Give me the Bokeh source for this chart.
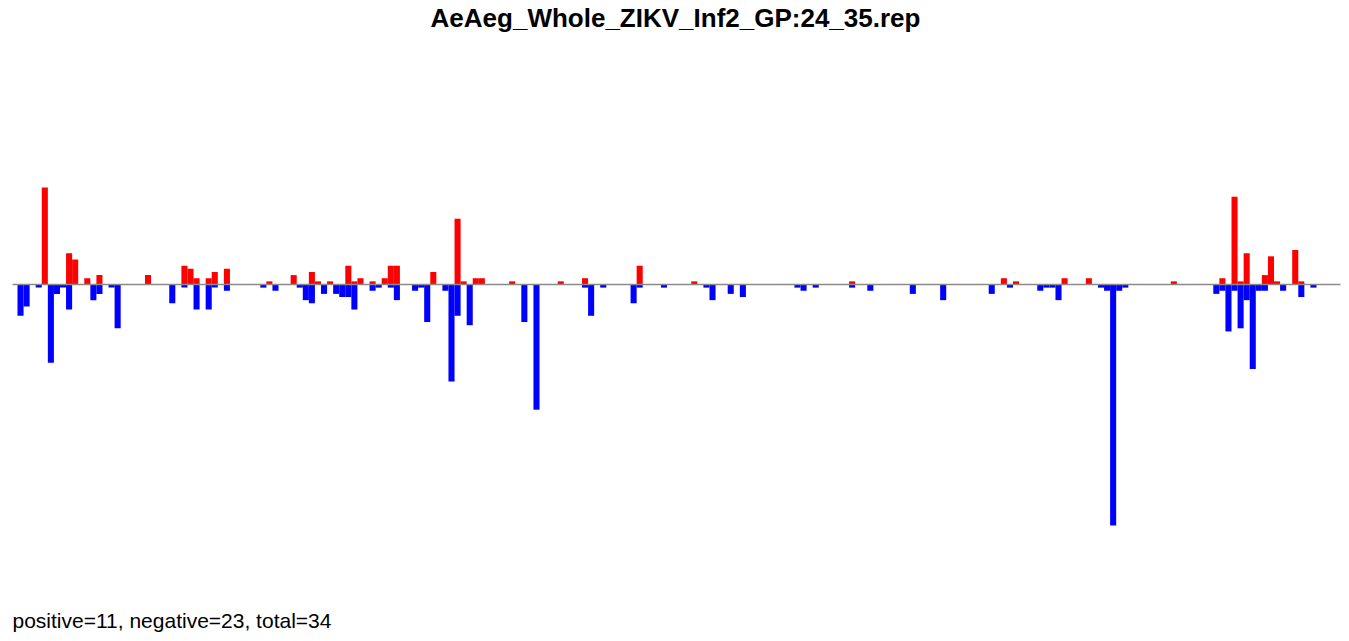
from bokeh.plotting import figure
from bokeh.models import Range1d, Label, ColumnDataSource
from bokeh.embed import file_html
from bokeh.resources import INLINE

title_text = "AeAeg_Whole_ZIKV_Inf2_GP:24_35.rep"
footer_text = "positive=11, negative=23, total=34"
n_slots = 218

pos_index = [4, 8, 9, 11, 13, 21, 27, 28, 29, 31, 32, 34, 41, 45, 48, 49, 51, 54, 55, 56,
             58, 60, 61, 62, 68, 72, 73, 75, 76, 81, 89, 93, 102, 111, 137, 162, 164, 172,
             176, 190, 198, 200, 201, 202, 205, 206, 207, 210, 211]
pos_value = [31, 10, 8, 2, 3, 3, 6, 5, 2, 2, 4, 5, 1, 3, 4, 1, 1, 6, 1, 2,
             1, 2, 6, 6, 4, 21, 1, 2, 2, 1, 1, 2, 6, 1, 1, 2, 1, 2,
             2, 1, 2, 28, 1, 10, 3, 9, 1, 11, 1]

neg_index = [0, 1, 3, 5, 6, 7, 8, 12, 13, 15, 16, 25, 27, 29, 31, 32, 34, 40, 42, 46,
             47, 48, 50, 52, 53, 54, 55, 58, 59, 61, 62, 65, 66, 67, 70, 71, 72, 74, 83, 85,
             93, 94, 96, 101, 102, 106, 113, 114, 117, 119, 128, 129, 131, 137, 140, 147, 152,
             160, 163, 168, 169, 170, 171, 178, 179, 180, 181, 182, 197, 198, 199, 200, 201,
             202, 203, 204, 205, 208, 211, 213]
neg_value = [-10, -7, -1, -25, -3, -1, -8, -5, -3, -1, -14, -6, -1, -8, -8, -1, -2, -1, -2, -1,
             -5, -6, -3, -3, -4, -4, -8, -2, -1, -1, -5, -2, -1, -12, -2, -31, -10, -13, -12, -40,
             -1, -10, -1, -6, -1, -1, -1, -5, -3, -4, -1, -2, -1, -1, -2, -3, -5,
             -3, -1, -2, -1, -1, -5, -1, -2, -77, -2, -1, -3, -2, -15, -2, -14,
             -5, -27, -2, -2, -2, -4, -1]

W, H = 1341, 633
p = figure(width=W, height=H, output_backend="svg", toolbar_location=None,
           x_range=Range1d(-2.80, 218.12), y_range=Range1d(-111.5, 90.73),
           min_border=0, min_border_left=0, min_border_right=0,
           min_border_top=0, min_border_bottom=0)
p.axis.visible = False
p.grid.visible = False
p.outline_line_color = None
p.background_fill_color = "white"
p.border_fill_color = "white"

pos_src = ColumnDataSource(dict(x=[i + 0.5 for i in pos_index], top=pos_value))
neg_src = ColumnDataSource(dict(x=[i + 0.5 for i in neg_index], top=neg_value))
p.vbar(x="x", top="top", bottom=0, width=1.0, source=pos_src,
       fill_color="#FF0000", line_color=None)
p.vbar(x="x", top="top", bottom=0, width=1.0, source=neg_src,
       fill_color="#0000FF", line_color=None)

p.line(x=[-0.82, n_slots - 0.04], y=[0, 0], line_color="#8a8a8a", line_width=1.6)

p.add_layout(Label(x=675, y=H - 2, x_units="screen", y_units="screen",
                   text=title_text, text_align="center", text_baseline="top",
                   text_font="Liberation Sans", text_font_style="bold",
                   text_font_size="26px", text_color="black"))
p.add_layout(Label(x=12, y=2, x_units="screen", y_units="screen",
                   text=footer_text, text_align="left", text_baseline="bottom",
                   text_font="Liberation Sans", text_font_size="21px",
                   text_color="black"))

open("out.html", "w").write(file_html(p, INLINE))
